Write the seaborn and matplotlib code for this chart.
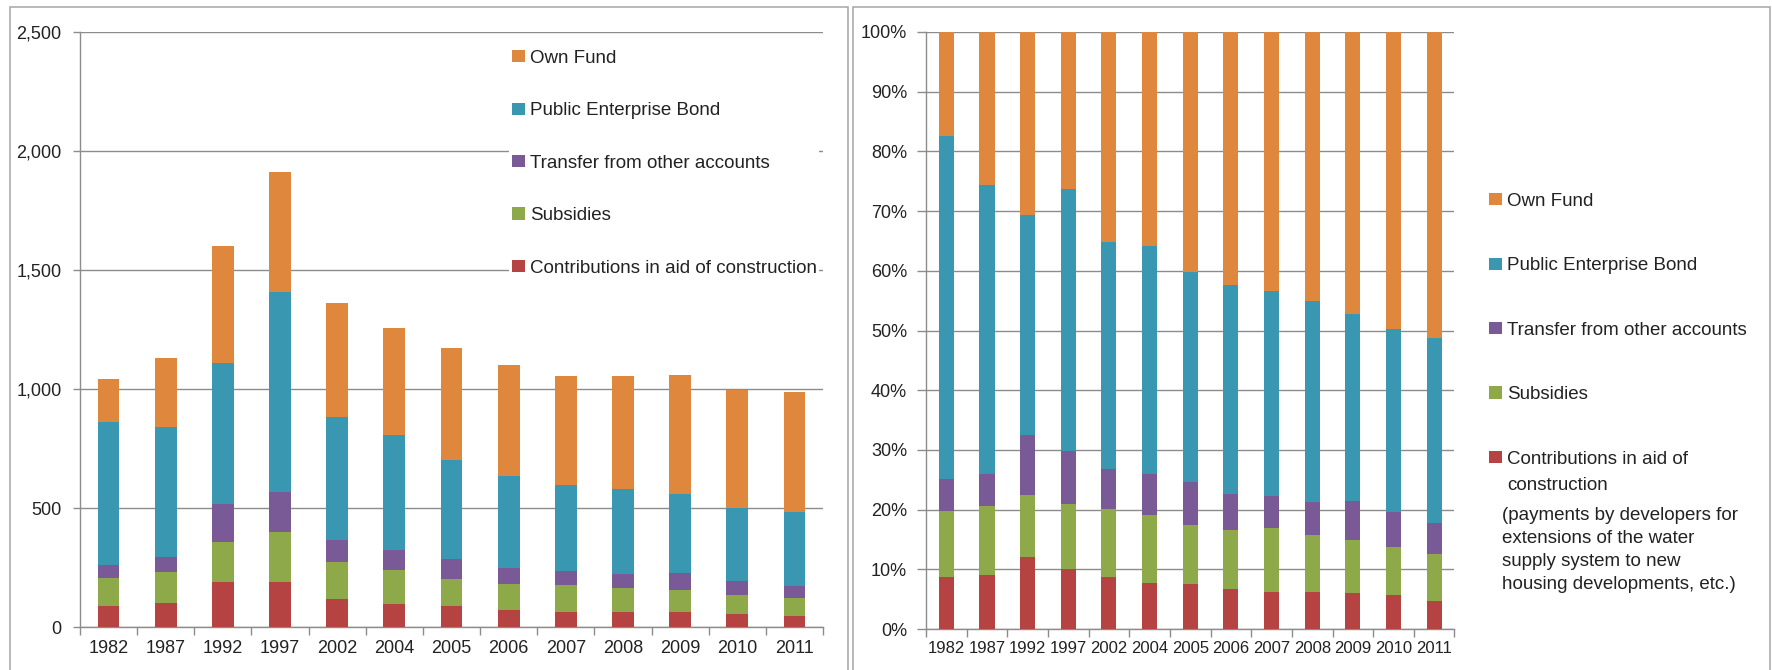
import numpy as np
import pandas as pd
import matplotlib
matplotlib.use("Agg")
import matplotlib.pyplot as plt
import seaborn as sns
from matplotlib.patches import Patch, Rectangle
from matplotlib.ticker import MultipleLocator, FuncFormatter

# ---------------- data ----------------
years = ["1982", "1987", "1992", "1997", "2002", "2004", "2005",
         "2006", "2007", "2008", "2009", "2010", "2011"]
contributions = [91, 102, 192, 192, 118, 97, 88, 73, 66, 66, 63, 56, 47]
subsidies     = [115, 131, 168, 207, 156, 143, 116, 110, 112, 100, 95, 80, 78]
transfer      = [55, 61, 159, 170, 91, 86, 84, 66, 58, 59, 69, 59, 50]
bond          = [599, 546, 590, 840, 518, 480, 414, 386, 361, 355, 332, 305, 307]
own_fund      = [182, 290, 490, 504, 478, 451, 471, 466, 459, 476, 499, 496, 507]

series_names = ["Contributions in aid of construction", "Subsidies",
                "Transfer from other accounts", "Public Enterprise Bond", "Own Fund"]
series_colors = ["#B54341", "#8EA94A", "#7A5997", "#3A97B1", "#DF873C"]

note_text = ("(payments by developers for\nextensions of the water\n"
             "supply system to new\nhousing developments, etc.)")

# ---------------- style ----------------
sns.set_theme(style="white")
plt.rcParams["font.family"] = ["Liberation Sans", "DejaVu Sans"]

df = pd.DataFrame(dict(zip(series_names,
                           [contributions, subsidies, transfer, bond, own_fund])),
                  index=years)
cum = df.cumsum(axis=1)
share = df.div(df.sum(axis=1), axis=0) * 100
cum_share = share.cumsum(axis=1)
colors = dict(zip(series_names, series_colors))

W, H = 1772, 670
fig = plt.figure(figsize=(W / 100, H / 100), dpi=100)


def px(x0, y0, x1, y1):
    return [x0 / W, 1 - y1 / H, (x1 - x0) / W, (y1 - y0) / H]


GRID = "#8C8C8C"
TXT = "#222222"
LEG_FS = 13.5

ax1 = fig.add_axes(px(80, 31.7, 823, 627.3))
ax2 = fig.add_axes(px(926, 32, 1454.5, 629))


def stacked(ax, cumdf, width):
    for name in reversed(series_names):
        sns.barplot(x=list(cumdf.index), y=cumdf[name].values, order=years,
                    color=colors[name], saturation=1, width=width,
                    linewidth=0, errorbar=None, ax=ax, zorder=3)


def style(ax, ymax, ystep, fmt, xsize, ysize, xpad, ypad, ytick_len):
    ax.set_xlim(-0.5, len(years) - 0.5)
    ax.set_ylim(0, ymax)
    ax.yaxis.set_major_locator(MultipleLocator(ystep))
    ax.yaxis.set_major_formatter(FuncFormatter(fmt))
    ax.set_axisbelow(True)
    ax.yaxis.grid(True, color=GRID, lw=1.0)
    ax.xaxis.grid(False)
    for s in ("top", "right"):
        ax.spines[s].set_visible(False)
    for s in ("left", "bottom"):
        ax.spines[s].set_color(GRID)
        ax.spines[s].set_linewidth(1.0)
    ax.set_xlabel("")
    ax.set_ylabel("")
    ax.set_xticks(np.arange(-0.5, len(years)), minor=True)
    ax.tick_params(axis="x", which="major", length=0, pad=xpad,
                   labelsize=xsize, labelcolor=TXT)
    ax.tick_params(axis="x", which="minor", bottom=True, length=6, width=1,
                   color=GRID, direction="out")
    ax.tick_params(axis="y", which="major", left=True, length=ytick_len, width=1,
                   color=GRID, direction="out", pad=ypad, labelsize=ysize,
                   labelcolor=TXT)


stacked(ax1, cum, 0.38)
style(ax1, 2500, 500, lambda v, p: f"{v:,.0f}", 13, 13, 9.2, 8.4, 5)

stacked(ax2, cum_share, 0.37)
style(ax2, 100, 10, lambda v, p: f"{v:.0f}%", 12, 13, 8.4, 7.0, 6.7)

handles = [Patch(facecolor=colors[n], edgecolor="none") for n in reversed(series_names)]
labels1 = list(reversed(series_names))
labels2 = ["Own Fund", "Public Enterprise Bond", "Transfer from other accounts",
           "Subsidies", "Contributions in aid of"]

leg_kw = dict(fontsize=LEG_FS, handlelength=0.7, handleheight=0.62, handletextpad=0.25,
              borderpad=0.15, borderaxespad=0, frameon=True, fancybox=False,
              framealpha=1, edgecolor="none", facecolor="white", loc="upper left",
              bbox_transform=fig.transFigure)
leg1 = ax1.legend(handles, labels1, bbox_to_anchor=(509 / W, 1 - 47 / H),
                  labelspacing=1.89, **leg_kw)
leg2 = fig.legend(handles, labels2, bbox_to_anchor=(1486 / W, 1 - 190 / H),
                  labelspacing=2.53, **leg_kw)
for leg in (leg1, leg2):
    for t in leg.get_texts():
        t.set_color(TXT)

fig.text(1507 / W, 1 - 486 / H, "construction", fontsize=LEG_FS, color=TXT,
         ha="left", va="center")
fig.text(1502 / W, 1 - 507 / H, note_text, fontsize=LEG_FS, color=TXT,
         ha="left", va="top", linespacing=1.46)

for x0, x1 in ((10, 848), (853, 1770)):
    fig.add_artist(Rectangle((x0 / W, -0.05), (x1 - x0) / W, 1.05 - 7 / H,
                             transform=fig.transFigure, fill=False,
                             edgecolor="#A6A6A6", linewidth=1.1))

fig.savefig("out.png", dpi=100, facecolor="white")
